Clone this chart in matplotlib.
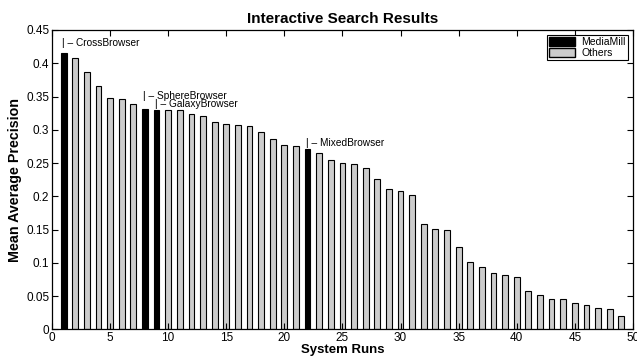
import matplotlib.pyplot as plt
from matplotlib.patches import Patch

plt.rcParams['font.family'] = ['Liberation Sans', 'DejaVu Sans']

runs = list(range(1, 50))
precision = [0.415, 0.408, 0.387, 0.366, 0.348, 0.346, 0.339, 0.331, 0.330, 0.329,
             0.329, 0.324, 0.320, 0.311, 0.308, 0.307, 0.305, 0.296, 0.286, 0.277,
             0.276, 0.271, 0.265, 0.254, 0.250, 0.248, 0.243, 0.226, 0.211, 0.208,
             0.202, 0.158, 0.151, 0.149, 0.124, 0.101, 0.093, 0.084, 0.082, 0.079,
             0.057, 0.052, 0.046, 0.045, 0.039, 0.0365, 0.032, 0.030, 0.020]
mediamill_runs = [1, 8, 9, 22]
mediamill_names = ["CrossBrowser", "SphereBrowser", "GalaxyBrowser", "MixedBrowser"]
# label heights as placed in the original figure
label_y = [0.430, 0.351, 0.338, 0.280]

colors = ["black" if r in mediamill_runs else "#cccccc" for r in runs]

fig = plt.figure(figsize=(6.37, 3.64), dpi=100)
ax = fig.add_axes([0.0816, 0.0953, 0.912, 0.8223])

ax.bar(runs, precision, width=0.5, color=colors, edgecolor="black", linewidth=0.8)

for r, name, y in zip(mediamill_runs, mediamill_names, label_y):
    ax.text(r - 0.15, y, "| \u2013 " + name, fontsize=7.3, ha="left", va="center")

ax.set_xlim(0, 50)
ax.set_ylim(0, 0.45)
ax.set_xticks(range(0, 51, 5))
ax.set_yticks([i * 0.05 for i in range(10)])
ax.set_yticklabels(["0", "0.05", "0.1", "0.15", "0.2", "0.25", "0.3", "0.35", "0.4", "0.45"])
ax.tick_params(direction="in", top=True, right=True, labelsize=8.5, length=4, pad=2)
for s in ax.spines.values():
    s.set_linewidth(0.9)

ax.set_title("Interactive Search Results", fontsize=11, fontweight="bold", pad=5)
ax.set_xlabel("System Runs", fontsize=9.5, fontweight="bold", labelpad=0)
ax.set_ylabel("Mean Average Precision", fontsize=10.3, fontweight="bold", labelpad=3)

handles = [Patch(facecolor="black", edgecolor="black", label="MediaMill"),
           Patch(facecolor="#cccccc", edgecolor="black", label="Others")]
leg = ax.legend(handles=handles, loc="upper right", fontsize=7.5, fancybox=False,
                edgecolor="black", framealpha=1, borderaxespad=0.5, handlelength=2.5,
                handleheight=0.9, labelspacing=0.05, borderpad=0.2, handletextpad=0.6)
leg.get_frame().set_linewidth(0.8)

fig.savefig("out.png", dpi=100)
